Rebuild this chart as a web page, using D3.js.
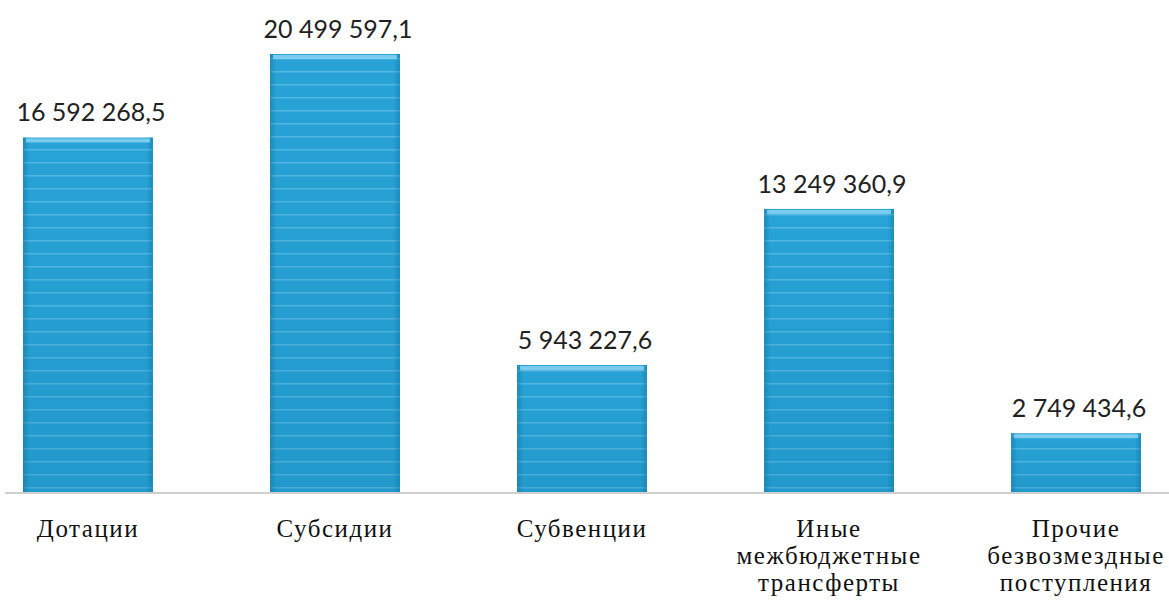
<!DOCTYPE html>
<html>
<head>
<meta charset="utf-8">
<script src="https://cdn.jsdelivr.net/npm/d3@7"></script>
<style>
  body { margin: 0; background: #fff; }
</style>
</head>
<body>
<div id="chart"></div>
<script>
// chart data
const categories = ["Дотации", "Субсидии", "Субвенции", "Иные межбюджетные трансферты", "Прочие безвозмездные поступления"];
const labelLines = [["Дотации"], ["Субсидии"], ["Субвенции"], ["Иные", "межбюджетные", "трансферты"], ["Прочие", "безвозмездные", "поступления"]];
const values = [16592268.5, 20499597.1, 5943227.6, 13249360.9, 2749434.6];
const valueLabels = ["16 592 268,5", "20 499 597,1", "5 943 227,6", "13 249 360,9", "2 749 434,6"];

const width = 1169, height = 612;
const baseY = 492, topY = 54;

const svg = d3.select("#chart")
  .append("svg")
    .attr("width", width)
    .attr("height", height);

const defs = svg.append("defs");

// stripe pattern for the bars
const pat = defs.append("pattern")
    .attr("id", "stripes")
    .attr("patternUnits", "userSpaceOnUse")
    .attr("width", 8)
    .attr("height", 13);
pat.append("rect").attr("width", 8).attr("height", 13).attr("fill", "#28a3d7");
pat.append("rect").attr("y", 6).attr("width", 8).attr("height", 1.5).attr("fill", "#86d0f0").attr("opacity", 0.5);

// side shading
const side = defs.append("linearGradient").attr("id", "side");
side.append("stop").attr("offset", "0%").attr("stop-color", "#0b6f9c").attr("stop-opacity", 0.45);
side.append("stop").attr("offset", "5%").attr("stop-color", "#0b6f9c").attr("stop-opacity", 0);
side.append("stop").attr("offset", "95%").attr("stop-color", "#0b6f9c").attr("stop-opacity", 0);
side.append("stop").attr("offset", "100%").attr("stop-color", "#0b6f9c").attr("stop-opacity", 0.45);

// slight darkening toward the bottom
const vert = defs.append("linearGradient").attr("id", "vert")
    .attr("x1", 0).attr("y1", 0).attr("x2", 0).attr("y2", 1);
vert.append("stop").attr("offset", "0%").attr("stop-color", "#0b6f9c").attr("stop-opacity", 0);
vert.append("stop").attr("offset", "100%").attr("stop-color", "#0b6f9c").attr("stop-opacity", 0.2);

const x = d3.scaleBand()
  .domain(categories)
  .range([23, 1141])
  .paddingInner(0.474)
  .paddingOuter(0);

const y = d3.scaleLinear()
  .domain([0, d3.max(values)])
  .range([baseY, topY]);

const data = categories.map((c, i) => ({ cat: c, value: values[i], label: valueLabels[i], lines: labelLines[i] }));

// baseline
svg.append("line")
  .attr("x1", 5).attr("x2", width)
  .attr("y1", baseY + 1).attr("y2", baseY + 1)
  .attr("stroke", "#cfcfcf")
  .attr("stroke-width", 2);

const bars = svg.selectAll(".bar")
  .data(data)
  .join("g")
    .attr("class", "bar");

bars.append("rect")
  .attr("x", d => x(d.cat))
  .attr("y", d => y(d.value))
  .attr("width", x.bandwidth())
  .attr("height", d => baseY - y(d.value))
  .attr("fill", "url(#stripes)");

bars.append("rect")
  .attr("x", d => x(d.cat))
  .attr("y", d => y(d.value))
  .attr("width", x.bandwidth())
  .attr("height", d => baseY - y(d.value))
  .attr("fill", "url(#vert)");

bars.append("rect")
  .attr("x", d => x(d.cat))
  .attr("y", d => y(d.value))
  .attr("width", x.bandwidth())
  .attr("height", d => baseY - y(d.value))
  .attr("fill", "url(#side)");

// top bevel highlight
bars.append("rect")
  .attr("x", d => x(d.cat) + 3)
  .attr("y", d => y(d.value) + 1)
  .attr("width", x.bandwidth() - 6)
  .attr("height", 4)
  .attr("fill", "#8fd6f4")
  .attr("opacity", 0.8);

// value labels
svg.selectAll(".val")
  .data(data)
  .join("text")
    .attr("class", "val")
    .attr("x", d => x(d.cat) + x.bandwidth() / 2 + 3)
    .attr("y", d => y(d.value) - 16)
    .attr("text-anchor", "middle")
    .attr("font-family", "Lato, sans-serif")
    .attr("font-size", 25)
    .attr("fill", "#222")
    .text(d => d.label);

// category labels
const cats = svg.selectAll(".cat")
  .data(data)
  .join("text")
    .attr("class", "cat")
    .attr("text-anchor", "middle")
    .attr("font-family", "'Liberation Serif', serif")
    .attr("font-size", 25)
    .attr("letter-spacing", 1.5)
    .attr("fill", "#111");

cats.selectAll("tspan")
  .data(d => d.lines.map(l => ({ l, cx: x(d.cat) + x.bandwidth() / 2 })))
  .join("tspan")
    .attr("x", d => d.cx)
    .attr("y", (d, i) => 537 + i * 27)
    .text(d => d.l);
</script>
</body>
</html>
